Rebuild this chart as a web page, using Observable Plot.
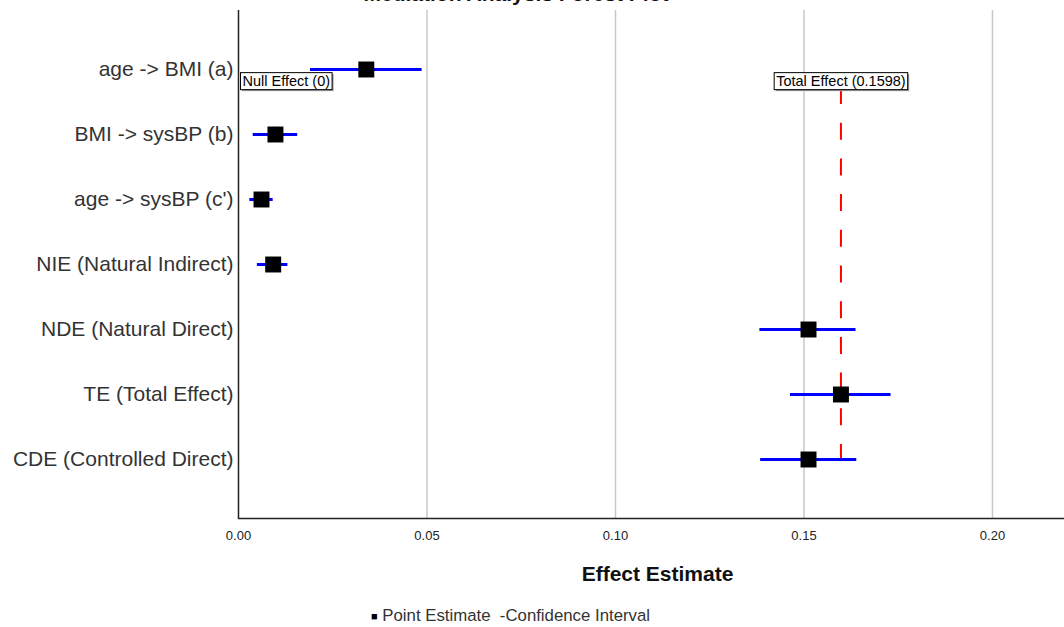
<!DOCTYPE html>
<html>
<head>
<meta charset="utf-8">
<script src="https://cdn.jsdelivr.net/npm/d3@7"></script>
<script src="https://cdn.jsdelivr.net/npm/@observablehq/plot@0.6"></script>
<style>
  html, body { margin: 0; padding: 0; background: #fff; }
  body { position: relative; width: 1064px; height: 627px; overflow: hidden; font-family: "Liberation Sans", Arial, sans-serif; }
  #title { position: absolute; top: -17px; left: 0; width: 1032px; text-align: center; font-size: 21px; font-weight: bold; line-height: 21px; color: #111; z-index: 2; }
  #chart { position: absolute; top: 0; left: 0; z-index: 1; }
  #legend { position: absolute; top: 606px; left: 371px; font-size: 16.8px; color: #333; white-space: pre; z-index: 2; }
  #legend .sq { font-size: 11px; color: #000; vertical-align: 1px; }
</style>
</head>
<body>
<div id="title">Mediation Analysis Forest Plot</div>
<div id="chart"></div>
<div id="legend"><span class="sq">■</span> Point Estimate  -Confidence Interval</div>
<script>
const labels = ["age -> BMI (a)", "BMI -> sysBP (b)", "age -> sysBP (c')", "NIE (Natural Indirect)", "NDE (Natural Direct)", "TE (Total Effect)", "CDE (Controlled Direct)"];
const estimates = [0.0339, 0.0098, 0.0061, 0.0092, 0.1512, 0.1598, 0.1512];
const lower = [0.0191, 0.0039, 0.0030, 0.0050, 0.1383, 0.1464, 0.1385];
const upper = [0.0487, 0.0157, 0.0092, 0.0131, 0.1638, 0.1731, 0.1640];
const xTicks = [0, 0.05, 0.10, 0.15, 0.20];
const gridValues = [0.05, 0.10, 0.15, 0.20];
const nullEffect = 0;
const totalEffect = 0.1598;
const nullLabel = "Null Effect (0)";
const totalLabel = "Total Effect (0.1598)";
const xLabel = "Effect Estimate";

const rows = labels.map((label, i) => ({label, est: estimates[i], lo: lower[i], hi: upper[i]}));
const refLine = [{x: totalEffect, y1: labels[0], y2: labels[labels.length - 1]}];

const chart = Plot.plot({
  width: 1064,
  height: 590,
  marginLeft: 238,
  marginRight: 0,
  marginTop: 10,
  marginBottom: 72,
  style: {fontFamily: "'Liberation Sans', Arial, sans-serif", background: "transparent", color: "#222", overflow: "visible"},
  x: {domain: [0, 0.2191]},
  y: {type: "point", domain: labels, padding: 0.888},
  marks: [
    Plot.ruleX(gridValues, {stroke: "#c8c8c8", strokeWidth: 1.5}),
    Plot.frame({anchor: "bottom", stroke: "#222", strokeWidth: 1.5}),
    Plot.ruleX([nullEffect], {stroke: "#222", strokeWidth: 1.5}),
    Plot.ruleX(refLine, {x: "x", y1: "y1", y2: "y2", insetTop: 18, stroke: "#ff0000", strokeWidth: 2, strokeDasharray: "17,18.7"}),
    Plot.ruleY(rows, {x1: "lo", x2: "hi", y: "label", stroke: "#0000ff", strokeWidth: 3}),
    Plot.dot(rows, {x: "est", y: "label", symbol: "square", r: 9, fill: "#000", stroke: null}),
    Plot.text([nullLabel], {text: d => d, x: nullEffect, frameAnchor: "top", lineAnchor: "middle", dy: 71, dx: 4, textAnchor: "start", fontSize: 14.5, fill: "#000"}),
    Plot.text([totalLabel], {text: d => d, x: totalEffect, frameAnchor: "top", lineAnchor: "middle", dy: 71, textAnchor: "middle", fontSize: 14.5, fill: "#000"}),
    Plot.axisX({ticks: xTicks, tickFormat: d3.format(".2f"), tickSize: 0, tickPadding: 12, fontSize: 13, label: null}),
    Plot.axisY({tickSize: 0, tickPadding: 5, fontSize: 21, label: null, fill: "#333"}),
    Plot.text([xLabel], {text: d => d, frameAnchor: "bottom", dy: 62, dx: 6, fontSize: 21, fontWeight: "bold", fill: "#111"})
  ]
});
document.getElementById("chart").appendChild(chart);

// white boxes behind the two reference labels
const ns = "http://www.w3.org/2000/svg";
Array.from(chart.querySelectorAll("text"))
  .filter(t => t.textContent === nullLabel || t.textContent === totalLabel)
  .forEach(t => {
    const b = t.getBBox();
    const g = t.parentNode;
    const mk = (dx, fill, stroke) => {
      const r = document.createElementNS(ns, "rect");
      r.setAttribute("x", b.x - 2 + dx);
      r.setAttribute("y", b.y - 0.5 + dx);
      r.setAttribute("width", b.width + 4);
      r.setAttribute("height", b.height + 1);
      r.setAttribute("fill", fill);
      if (stroke) { r.setAttribute("stroke", stroke); r.setAttribute("stroke-width", 1); }
      const tr = t.getAttribute("transform");
      if (tr) r.setAttribute("transform", tr);
      g.insertBefore(r, t);
    };
    mk(1.5, "#999", null);
    mk(0, "#fff", "#000");
  });
</script>
</body>
</html>
